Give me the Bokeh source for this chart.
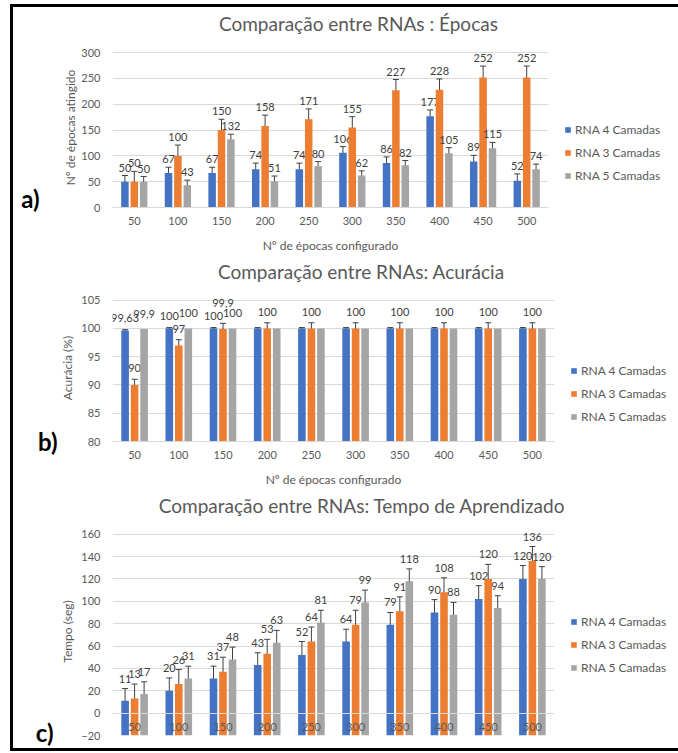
from bokeh.plotting import figure
from bokeh.models import (ColumnDataSource, FactorRange, FixedTicker, Whisker, TeeHead,
                          Legend, LegendItem, Range1d, LinearAxis)
from bokeh.transform import dodge
from bokeh.layouts import column
from bokeh.embed import file_html
from bokeh.resources import INLINE
from bokeh.core.properties import value

# ---------------- data ----------------
categories = ["50", "100", "150", "200", "250", "300", "350", "400", "450", "500"]
series_names = ["RNA 4 Camadas", "RNA 3 Camadas", "RNA 5 Camadas"]
colors = ["#4472C4", "#ED7D31", "#A5A5A5"]

# a) Épocas
epocas_rna4 = [50, 67, 67, 74, 74, 106, 86, 177, 89, 52]
epocas_rna3 = [50, 100, 150, 158, 171, 155, 227, 228, 252, 252]
epocas_rna5 = [50, 43, 132, 51, 80, 62, 82, 105, 115, 74]
epocas_err_rna4 = [12, 11, 11, 12, 12, 12, 12, 12, 12, 13]
epocas_err_rna3 = [20, 21, 21, 21, 20, 21, 21, 21, 22, 22]
epocas_err_rna5 = [10, 10, 10, 10, 9, 9, 9, 11, 11, 10]

# b) Acurácia
acur_rna4 = [99.63, 100, 100, 100, 100, 100, 100, 100, 100, 100]
acur_rna3 = [90, 97, 99.9, 100, 100, 100, 100, 100, 100, 100]
acur_rna5 = [99.9, 100, 100, 100, 100, 100, 100, 100, 100, 100]
acur_err_rna4 = [0.15, 0.15, 0.15, 0.15, 0.15, 0.15, 0.15, 0.15, 0.15, 0.15]
acur_err_rna3 = [1, 1, 1, 1, 1, 1, 1, 1, 1, 1]
acur_err_rna5 = [0, 0, 0, 0, 0, 0, 0, 0, 0, 0]
# which data labels are displayed in the original chart
acur_show_rna4 = [1, 1, 1, 0, 0, 0, 0, 0, 0, 0]
acur_show_rna3 = [1, 1, 1, 1, 1, 1, 1, 1, 1, 1]
acur_show_rna5 = [1, 1, 1, 0, 0, 0, 0, 0, 0, 0]

# c) Tempo de aprendizado
tempo_rna4 = [11, 20, 31, 43, 52, 64, 79, 90, 102, 120]
tempo_rna3 = [13, 26, 37, 53, 64, 79, 91, 108, 120, 136]
tempo_rna5 = [17, 31, 48, 63, 81, 99, 118, 88, 94, 120]
tempo_err_rna4 = [11, 11.5, 11, 11, 12, 11, 11, 11.5, 12, 12]
tempo_err_rna3 = [13, 13, 13, 13, 13, 13, 13, 13, 13, 13]
tempo_err_rna5 = [11, 11, 11, 11, 11, 11, 11, 11, 11, 11]

ticks_a = [0, 50, 100, 150, 200, 250, 300]
ticks_b = [80, 85, 90, 95, 100, 105]
ticks_c = [-20, 0, 20, 40, 60, 80, 100, 120, 140, 160]

titles = ["Comparação entre RNAs : Épocas",
          "Comparação entre RNAs: Acurácia",
          "Comparação entre RNAs: Tempo de Aprendizado"]
ylabels = ["Nº de épocas atingido", "Acurácia (%)", "Tempo (seg)"]
xlabel = "Nº de épocas configurado"
letters = ["a)", "b)", "c)"]

FONT = "Lato"
GRID = "#D9D9D9"
TXT = "#595959"
OFFS = [-0.215, 0.0, 0.215]


def fmt(v):
    return ("%g" % v).replace(".", ",")


def no_ticks(ax):
    ax.major_tick_line_color = None
    ax.minor_tick_line_color = None
    ax.major_tick_out = 0
    ax.major_tick_in = 0
    ax.minor_tick_out = 0
    ax.minor_tick_in = 0


def make_panel(title, ylabel, letter, series, errs, shows, y0, y1, yticks, FW, FH,
               bl, br, bt, bb, title_x, title_standoff, ylab_standoff,
               letter_y, letter_standoff, legend_loc, lab_offs, lab_extra=None,
               fixed_x=None, xtick_standoff=9, xlab_standoff=10):
    p = figure(frame_width=FW, frame_height=FH, x_range=FactorRange(*categories),
               y_range=Range1d(y0, y1), output_backend="svg", toolbar_location=None,
               min_border_left=bl, min_border_right=br, min_border_top=bt,
               min_border_bottom=bb)
    p.x_range.range_padding = 0
    p.outline_line_color = None
    p.background_fill_color = "white"
    p.border_fill_color = "white"

    items = []
    for k in range(3):
        vals = series[k]
        err = errs[k]
        top = [v + e for v, e in zip(vals, err)]
        labels = [fmt(v) if s else "" for v, s in zip(vals, shows[k])]
        extra = [0] * len(vals)
        if lab_extra:
            for (kk, ii), px in lab_extra.items():
                if kk == k:
                    extra[ii] = px
        src = ColumnDataSource(dict(cat=categories, val=vals,
                                    up=top, lo=[v - e for v, e in zip(vals, err)],
                                    label=labels,
                                    yoff=[lab_offs[k] - e for e in extra]))
        xd = dodge("cat", OFFS[k], range=p.x_range)
        r = p.vbar(x=xd, top="val", bottom=y0, width=0.172, source=src,
                   fill_color=colors[k], line_color=None)
        items.append(LegendItem(label=series_names[k], renderers=[r]))
        if any(e > 0 for e in err):
            w = Whisker(source=src, base=xd, upper="up", lower="lo",
                        line_color="#404040", line_width=1,
                        upper_head=TeeHead(size=6, line_color="#404040", line_width=1),
                        lower_head=TeeHead(size=6, line_color="#404040", line_width=1))
            p.add_layout(w)
        p.text(x=xd, y="up", text="label", source=src, text_align="center",
               text_baseline="middle", y_offset="yoff", text_font=value(FONT),
               text_font_size="11px", text_color="#404040")

    # main axes
    ya = p.yaxis[0]
    xa = p.xaxis[0]
    ya.ticker = FixedTicker(ticks=yticks)
    p.ygrid.ticker = FixedTicker(ticks=yticks)
    p.ygrid.grid_line_color = GRID
    p.xgrid.grid_line_color = None
    ya.axis_line_color = None
    no_ticks(ya)
    ya.major_label_standoff = 12
    ya.major_label_text_font = FONT
    ya.major_label_text_font_size = "11px"
    ya.major_label_text_color = TXT
    ya.axis_label = ylabel
    ya.axis_label_text_font = FONT
    ya.axis_label_text_font_size = "12px"
    ya.axis_label_text_font_style = "normal"
    ya.axis_label_text_color = TXT
    ya.axis_label_standoff = ylab_standoff

    xa.axis_line_color = GRID
    no_ticks(xa)
    xa.major_label_standoff = xtick_standoff
    xa.major_label_text_font = FONT
    xa.major_label_text_font_size = "11px"
    xa.major_label_text_color = TXT
    xa.axis_label = xlabel
    xa.axis_label_text_font = FONT
    xa.axis_label_text_font_size = "12px"
    xa.axis_label_text_font_style = "normal"
    xa.axis_label_text_color = TXT
    xa.axis_label_standoff = xlab_standoff
    if fixed_x is not None:
        xa.fixed_location = fixed_x

    # chart title, set on a top axis so it can sit off-centre like the original
    ta = LinearAxis(ticker=FixedTicker(ticks=[title_x]),
                    major_label_overrides={title_x: title},
                    axis_line_color=None, major_label_standoff=title_standoff,
                    major_label_text_font=FONT, major_label_text_font_size="19px",
                    major_label_text_color=TXT)
    no_ticks(ta)
    p.add_layout(ta, "above")

    # panel letter a) / b) / c) on an outer left axis
    la = LinearAxis(ticker=FixedTicker(ticks=[letter_y]),
                    major_label_overrides={letter_y: letter},
                    axis_line_color=None, major_label_standoff=letter_standoff,
                    major_label_text_font=FONT, major_label_text_font_size="24px",
                    major_label_text_font_style="bold", major_label_text_color="black")
    no_ticks(la)
    p.add_layout(la, "left")

    legend = Legend(items=items, location=legend_loc, orientation="vertical",
                    padding=0, margin=0, border_line_color=None,
                    background_fill_alpha=0, glyph_width=7, glyph_height=7,
                    label_height=14, spacing=8, label_standoff=4,
                    label_text_font=FONT, label_text_font_size="12px",
                    label_text_color=TXT)
    p.add_layout(legend, "right")
    return p


pa = make_panel(titles[0], ylabels[0], letters[0],
                [epocas_rna4, epocas_rna3, epocas_rna5],
                [epocas_err_rna4, epocas_err_rna3, epocas_err_rna5],
                [[1] * 10, [1] * 10, [1] * 10],
                0, 310, ticks_a, 436, 160, 99, 124, 40, 48,
                5.64, 13, 0, 17.4, 21, (16, 24), [-8, -8, -8])

pb = make_panel(titles[1], ylabels[1], letters[1],
                [acur_rna4, acur_rna3, acur_rna5],
                [acur_err_rna4, acur_err_rna3, acur_err_rna5],
                [acur_show_rna4, acur_show_rna3, acur_show_rna5],
                80, 106, ticks_b, 442, 147, 93, 124, 39, 48,
                5.63, 12, 3, 80, 0, (16, 17), [-12, -11, -15],
                lab_extra={(1, 2): 9})

pc = make_panel(titles[2], ylabels[2], letters[2],
                [tempo_rna4, tempo_rna3, tempo_rna5],
                [tempo_err_rna4, tempo_err_rna3, tempo_err_rna5],
                [[1] * 10, [1] * 10, [1] * 10],
                -20, 166, ticks_c, 442, 208, 93, 124, 38, 13,
                5.65, 11, 3, -20, 4, (16, 60), [-10, -10, -10],
                fixed_x=0, xtick_standoff=10, xlab_standoff=2)

layout = column(pa, pb, pc, spacing=0, margin=(4, 0, 0, 10),
                styles={"border": "3px solid black"})

open("out.html", "w").write(file_html(layout, INLINE))
